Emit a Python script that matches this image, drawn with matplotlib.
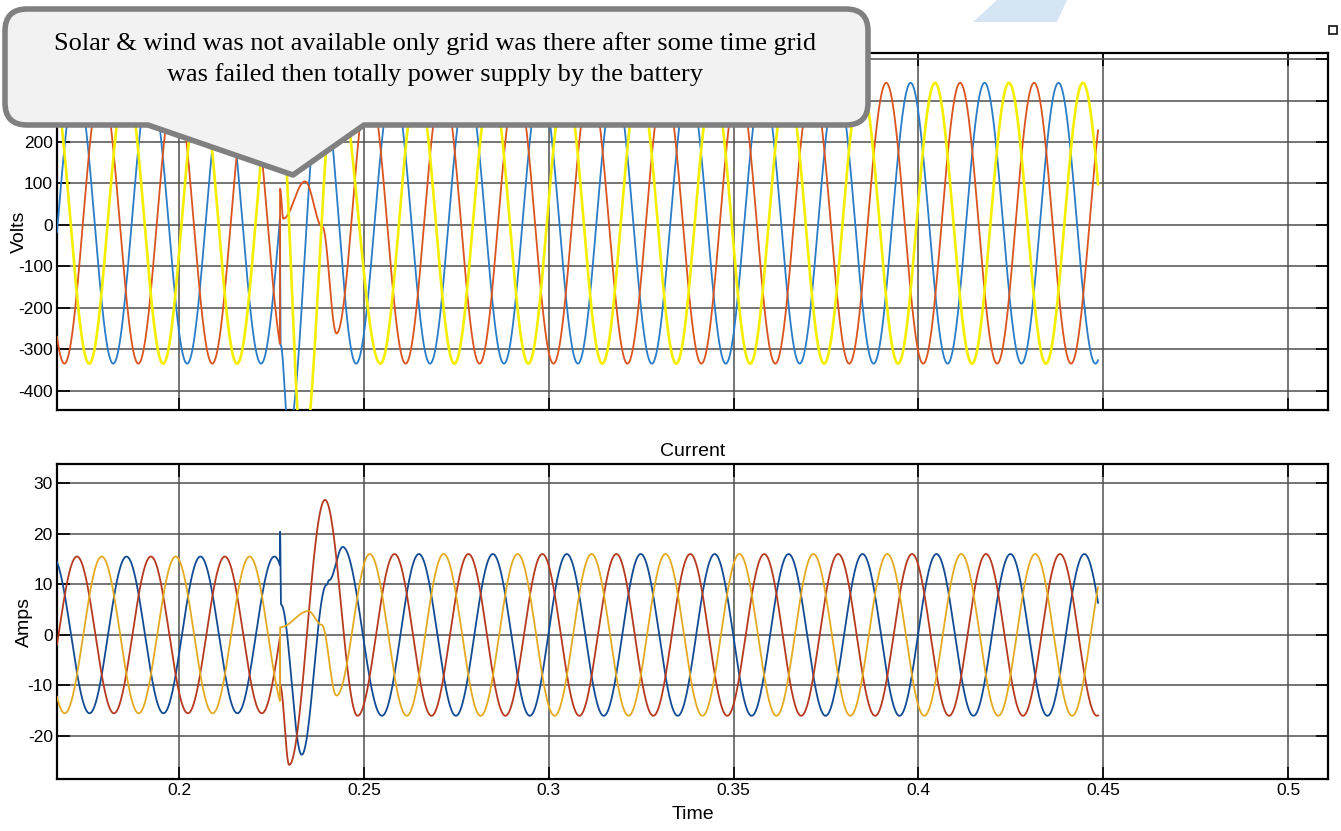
import numpy as np
import matplotlib
matplotlib.use("Agg")
import matplotlib.pyplot as plt
from matplotlib.path import Path
from matplotlib.patches import PathPatch, Polygon, Rectangle

plt.rcParams['axes.unicode_minus'] = False

# ---------------- data ----------------
PERIOD = 0.02                       # 50 Hz
T_FIRST, T_LAST = 0.167, 0.4486     # recorded span
X_LIM = (0.167, 0.5108)
X_TICKS = [0.2, 0.25, 0.3, 0.35, 0.4, 0.45, 0.5]
X_TICK_LABELS = ['0.2', '0.25', '0.3', '0.35', '0.4', '0.45', '0.5']

# Voltage (phases: blue, red, yellow)
V_AMP = 339.0
V_OFFSET = 4.0
V_PRE_PEAK = [0.1922, 0.1790, 0.1857]     # time of a crest before the event
V_POST_PEAK = [0.2979, 0.2913, 0.2845]    # time of a crest after the event
V_KEY_T_BLUE = [0.2273, 0.2275, 0.2296, 0.2385, 0.2479]
V_KEY_V_BLUE = [-17, -290, -500, 360, -335]
V_KEY_T_RED = [0.2273, 0.22735, 0.2282, 0.2341, 0.2388, 0.2426, 0.2513]
V_KEY_V_RED = [-285, 87, 15, 105, -5, -262, 343]
V_KEY_T_YEL = [0.2273, 0.2335, 0.2425, 0.2545]
V_KEY_V_YEL = [301, -560, 380, -335]
V_Y_LIM = (-447, 415)
V_Y_TICKS = [-400, -300, -200, -100, 0, 100, 200, 300, 400]

# Current (phases: blue, red, yellow)
I_AMP_PRE = 15.5
I_AMP_POST = 16.0
I_PRE_PEAK = [0.2258, 0.2124, 0.2191]
I_POST_PEAK = [0.2849, 0.2783, 0.2716]
I_KEY_T_BLUE = [0.2273, 0.22735, 0.2276, 0.2332, 0.2399, 0.2406, 0.2443, 0.2549]
I_KEY_V_BLUE = [13.8, 20.4, 6.0, -23.7, 9.9, 10.8, 17.4, -16.0]
I_KEY_T_RED = [0.2273, 0.22735, 0.2298, 0.2395, 0.2483]
I_KEY_V_RED = [-0.5, -10.0, -25.7, 26.7, -16.0]
I_KEY_T_YEL = [0.2273, 0.22735, 0.2350, 0.2386, 0.2426, 0.2516]
I_KEY_V_YEL = [-13.1, 1.5, 4.7, 2.0, -12.0, 16.0]
I_Y_LIM = (-28.5, 33.8)
I_Y_TICKS = [-20, -10, 0, 10, 20, 30]

V_COLORS = ['#2a7cc6', '#d9541e', '#f4ef00']
I_COLORS = ['#124b93', '#b53a20', '#e3aa22']

CALLOUT_TEXT = ("Solar & wind was not available only grid was there after some time grid\n"
                "was failed then totally power supply by the battery")


# ---------------- helpers ----------------
def waveform(t, amp_pre, amp_post, offset, peak_pre, peak_post, key_t, key_v):
    key_t = np.asarray(key_t, float)
    key_v = np.asarray(key_v, float)
    y = np.empty_like(t)
    pre = t < key_t[0]
    post = t > key_t[-1]
    mid = ~pre & ~post
    y[pre] = offset + amp_pre * np.cos(2 * np.pi * (t[pre] - peak_pre) / PERIOD)
    y[post] = offset + amp_post * np.cos(2 * np.pi * (t[post] - peak_post) / PERIOD)
    tm = t[mid]
    idx = np.clip(np.searchsorted(key_t, tm, side='right') - 1, 0, len(key_t) - 2)
    t0, t1 = key_t[idx], key_t[idx + 1]
    v0, v1 = key_v[idx], key_v[idx + 1]
    s = (tm - t0) / (t1 - t0)
    y[mid] = v0 + (v1 - v0) * (1 - np.cos(np.pi * s)) / 2
    return y


all_keys = (V_KEY_T_BLUE + V_KEY_T_RED + V_KEY_T_YEL +
            I_KEY_T_BLUE + I_KEY_T_RED + I_KEY_T_YEL)
t = np.union1d(np.linspace(T_FIRST, T_LAST, 30000), all_keys)

v_keys = [(V_KEY_T_BLUE, V_KEY_V_BLUE), (V_KEY_T_RED, V_KEY_V_RED), (V_KEY_T_YEL, V_KEY_V_YEL)]
i_keys = [(I_KEY_T_BLUE, I_KEY_V_BLUE), (I_KEY_T_RED, I_KEY_V_RED), (I_KEY_T_YEL, I_KEY_V_YEL)]

TICK_FONT = ['Liberation Sans', 'DejaVu Sans']

fig = plt.figure(figsize=(13.41, 8.31), dpi=100)
ax_v = fig.add_axes([0.0425, 0.5066, 0.9478, 0.4296])
ax_i = fig.add_axes([0.0425, 0.0626, 0.9478, 0.3790])


def style(ax, yticks, ylim, show_x):
    ax.set_xlim(*X_LIM)
    ax.set_ylim(*ylim)
    ax.set_xticks(X_TICKS)
    ax.set_yticks(yticks)
    ax.set_yticklabels([str(v) for v in yticks], family=TICK_FONT, fontsize=12.5)
    if show_x:
        ax.set_xticklabels(X_TICK_LABELS, family=TICK_FONT, fontsize=12.5)
    else:
        ax.set_xticklabels([])
    ax.grid(True, color='#505050', linewidth=1.1)
    ax.set_axisbelow(True)
    ax.tick_params(direction='in', length=9, width=1.2, left=True, right=True,
                   top=True, bottom=True, pad=3, colors='black')
    for sp in ax.spines.values():
        sp.set_linewidth(1.6)
        sp.set_color('black')


for k, (kt, kv) in enumerate(v_keys):
    y = waveform(t, V_AMP, V_AMP, V_OFFSET, V_PRE_PEAK[k], V_POST_PEAK[k], kt, kv)
    ax_v.plot(t, y, color=V_COLORS[k], lw=1.9 if k == 2 else 1.3, zorder=3)

for k, (kt, kv) in enumerate(i_keys):
    y = waveform(t, I_AMP_PRE, I_AMP_POST, 0.0, I_PRE_PEAK[k], I_POST_PEAK[k], kt, kv)
    ax_i.plot(t, y, color=I_COLORS[k], lw=1.3, zorder=3)

style(ax_v, V_Y_TICKS, V_Y_LIM, False)
style(ax_i, I_Y_TICKS, I_Y_LIM, True)

ax_v.set_ylabel('Volts', family=TICK_FONT, fontsize=14)
ax_v.yaxis.set_label_coords(-0.023, 0.50)
ax_i.set_ylabel('Amps', family=TICK_FONT, fontsize=14)
ax_i.yaxis.set_label_coords(-0.019, 0.50)
ax_i.set_title('Current', family=TICK_FONT, fontsize=14, pad=6)
ax_i.set_xlabel('Time', family=TICK_FONT, fontsize=14, labelpad=6)

# ---------------- callout overlay (pixel coordinates) ----------------
ov = fig.add_axes([0, 0, 1, 1], zorder=10)
ov.set_xlim(0, 1341)
ov.set_ylim(831, 0)
ov.axis('off')

L, T, R, B, r = 5, 9, 868, 125, 22
verts = [(L + r, T), (R - r, T), (R, T), (R, T + r), (R, B - r), (R, B), (R - r, B),
         (364, B), (293, 175), (148, B), (L + r, B), (L, B), (L, B - r), (L, T + r),
         (L, T), (L + r, T), (L + r, T)]
codes = [Path.MOVETO, Path.LINETO, Path.CURVE3, Path.CURVE3, Path.LINETO, Path.CURVE3,
         Path.CURVE3, Path.LINETO, Path.LINETO, Path.LINETO, Path.LINETO, Path.CURVE3,
         Path.CURVE3, Path.LINETO, Path.CURVE3, Path.CURVE3, Path.CLOSEPOLY]
ov.add_patch(PathPatch(Path(verts, codes), facecolor='#f2f2f2', edgecolor='#808080',
                       lw=4.0, joinstyle='round'))
ov.text(435, 59, CALLOUT_TEXT, ha='center', va='center', fontsize=19,
        family=['Liberation Serif', 'DejaVu Serif'], color='black', linespacing=1.42)

# faint watermark piece and small corner icon
ov.add_patch(Polygon([(973, 22), (997, 0), (1067, 0), (1057, 22)], closed=True,
                     facecolor='#d5e5f4', edgecolor='none', zorder=0))
ov.add_patch(Rectangle((1329, 26), 8, 8, facecolor='none', edgecolor='#222222', lw=1.3))

fig.savefig('out.png', dpi=100, facecolor='white')
